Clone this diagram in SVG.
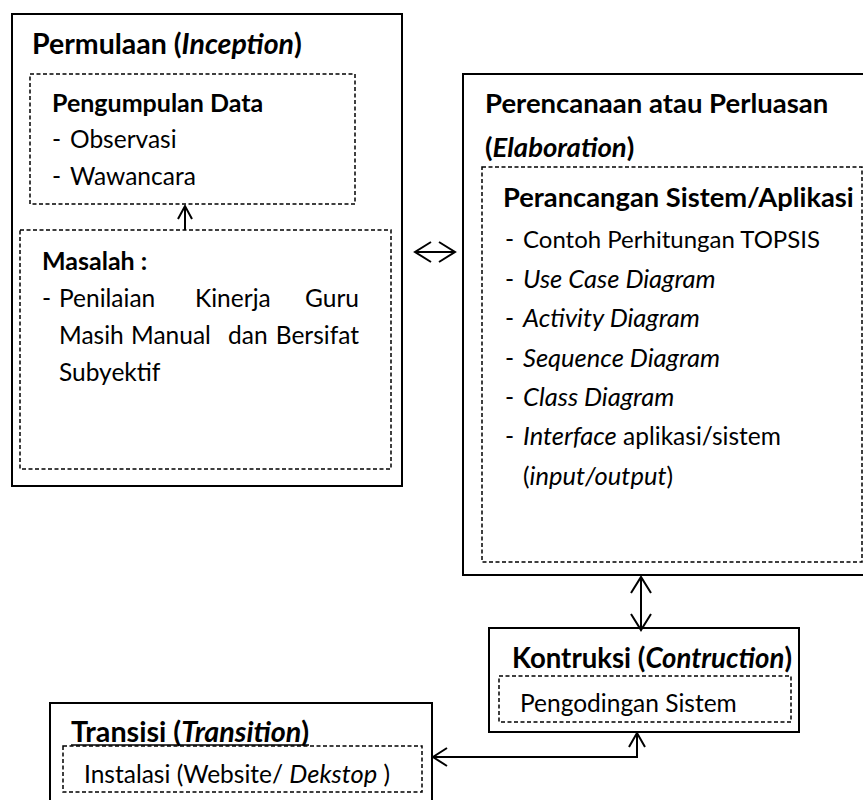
<svg xmlns="http://www.w3.org/2000/svg" width="863" height="800" viewBox="0 0 863 800">
  <style>
    .frame { fill: #ffffff; stroke: #000000; stroke-width: 2; }
    .dash { fill: none; stroke: #000000; stroke-width: 1.5; stroke-dasharray: 4 2.5; }
    .conn { fill: none; stroke: #000000; stroke-width: 2; }
    .head { fill: none; stroke: #000000; stroke-width: 2; stroke-linejoin: miter; }
    text { font-family: Lato, "Noto Sans", "Liberation Sans", sans-serif; fill: #000000; }
    .h1 { font-size: 28px; font-weight: bold; }
    .h2 { font-size: 25px; font-weight: bold; }
    .t { font-size: 24.5px; }
    .i { font-style: italic; }
    .ti { font-size: 25.5px; font-style: italic; }
  </style>
  <rect width="863" height="800" fill="#ffffff"/>

  <!-- Inception phase -->
  <g id="permulaan">
    <rect class="frame" x="12" y="14" width="390" height="472"/>
    <text class="h1" x="32" y="54" style="font-size:28.5px">Permulaan (<tspan class="i">Inception</tspan>)</text>
    <rect class="dash" x="30" y="74" width="325" height="130"/>
    <text class="h2" x="52" y="112">Pengumpulan Data</text>
    <text class="t" x="52" y="148">-</text>
    <text class="t" x="70" y="148">Observasi</text>
    <text class="t" x="52" y="185">-</text>
    <text class="t" x="70" y="185">Wawancara</text>
    <rect class="dash" x="20" y="230" width="371" height="239"/>
    <text class="h2" x="42" y="270">Masalah :</text>
    <text class="t" x="42" y="307">-</text>
    <text class="t" x="59" y="307">Penilaian</text>
    <text class="t" x="195" y="307">Kinerja</text>
    <text class="t" x="359" y="307" text-anchor="end">Guru</text>
    <text class="t" x="59" y="344">Masih</text>
    <text class="t" x="131" y="344">Manual</text>
    <text class="t" x="228" y="344">dan</text>
    <text class="t" x="359" y="344" text-anchor="end">Bersifat</text>
    <text class="t" x="59" y="381">Subyektif</text>
    <!-- problem feeds data collection -->
    <line class="conn" x1="185" y1="230" x2="185" y2="206"/>
    <polyline class="head" points="178,219 185,206 192,219"/>
  </g>

  <!-- Elaboration phase -->
  <g id="perencanaan">
    <rect class="frame" x="463" y="74" width="412" height="501"/>
    <text class="h1" x="485" y="113" style="font-size:27.5px">Perencanaan atau Perluasan</text>
    <text class="h1" x="485" y="157" style="font-size:27.5px">(<tspan class="i">Elaboration</tspan>)</text>
    <rect class="dash" x="482" y="167" width="380" height="395"/>
    <text class="h1" x="503" y="207" style="font-size:27.3px">Perancangan Sistem/Aplikasi</text>
    <text class="t" x="505" y="248">-</text>
    <text class="t" x="523" y="248" style="font-size:24px">Contoh Perhitungan TOPSIS</text>
    <text class="t" x="505" y="288">-</text>
    <text class="ti" x="523" y="288">Use Case Diagram</text>
    <text class="t" x="505" y="327">-</text>
    <text class="ti" x="523" y="327">Activity Diagram</text>
    <text class="t" x="505" y="367">-</text>
    <text class="ti" x="523" y="367">Sequence Diagram</text>
    <text class="t" x="505" y="406">-</text>
    <text class="ti" x="523" y="406">Class Diagram</text>
    <text class="t" x="505" y="445">-</text>
    <text class="t" x="523" y="445"><tspan class="ti">Interface</tspan> aplikasi/sistem</text>
    <text class="t" x="523" y="485">(<tspan class="ti">input/output</tspan>)</text>
  </g>

  <!-- Construction phase -->
  <g id="kontruksi">
    <rect class="frame" x="489" y="628" width="310" height="104"/>
    <text class="h1" x="512" y="668" style="font-size:27.6px">Kontruksi (<tspan class="i">Contruction</tspan>)</text>
    <rect class="dash" x="499" y="676" width="292" height="46"/>
    <text class="t" x="520" y="712">Pengodingan Sistem</text>
  </g>

  <!-- Transition phase -->
  <g id="transisi">
    <rect class="frame" x="50" y="703" width="382" height="110"/>
    <text class="h1" x="71" y="742" style="font-size:28.7px">Transisi (<tspan class="i">Transition</tspan>)</text>
    <line x1="71" y1="745" x2="309" y2="745" stroke="#000000" stroke-width="1.5"/>
    <rect class="dash" x="63" y="746" width="359" height="46"/>
    <text class="t" x="84" y="783">Instalasi (Website/ <tspan class="ti">Dekstop</tspan> )</text>
  </g>

  <!-- Connectors between phases -->
  <g id="connectors">
    <!-- Inception <-> Elaboration -->
    <line class="conn" x1="416" y1="252" x2="454" y2="252" stroke-width="1.5"/>
    <polyline class="head" points="431,242 415,252 431,262"/>
    <polyline class="head" points="439,242 455,252 439,262"/>
    <!-- Elaboration <-> Construction -->
    <line class="conn" x1="641" y1="578" x2="641" y2="630"/>
    <polyline class="head" points="631,593 641,577 651,593"/>
    <polyline class="head" points="631,614 641,630 651,614"/>
    <!-- Construction <-> Transition -->
    <polyline class="conn" points="637,733 637,757 433,757"/>
    <polyline class="head" points="629,747 637,733 645,747"/>
    <polyline class="head" points="447,748 433,757 447,766"/>
  </g>
</svg>
